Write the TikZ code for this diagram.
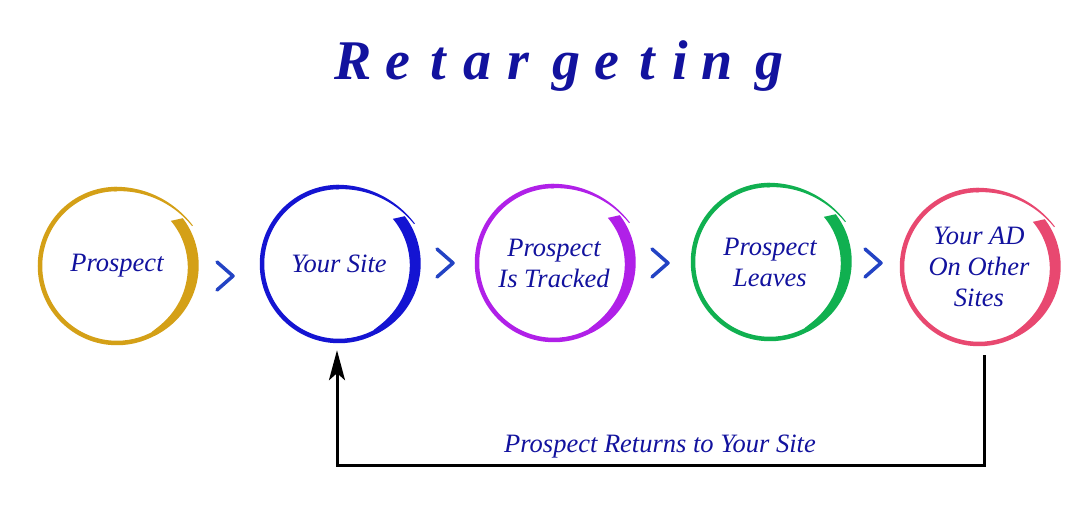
\documentclass[tikz,border=0pt]{standalone}
\usepackage{fontspec}
\setmainfont{Liberation Serif}
\usetikzlibrary{arrows.meta,calc}
\definecolor{txtblue}{RGB}{18,18,158}
\definecolor{cgold}{RGB}{212,160,23}
\definecolor{cblue}{RGB}{20,20,210}
\definecolor{cpurple}{RGB}{176,32,232}
\definecolor{cgreen}{RGB}{16,176,80}
\definecolor{cpink}{RGB}{232,72,112}
\definecolor{chevblue}{RGB}{35,67,196}
\newcommand\brushring[2]{%
  \begin{scope}[shift={(#1.center)}]
    % thin ring, counterclockwise from the top round to the lower right
    \draw[#2, line width=4.5pt] (90:77) arc[start angle=90, end angle=305, radius=77];
    % thin tail spiralling outwards at the top right
    \fill[#2] plot[domain=92:28, samples=40, variable=\t]
        (\t:{77+8.5*((92-\t)/64)*((92-\t)/64) + (4.5-3.5*(92-\t)/64)/2})
      -- plot[domain=28:92, samples=40, variable=\t]
        (\t:{77+8.5*((92-\t)/64)*((92-\t)/64) - (4.5-3.5*(92-\t)/64)/2}) -- cycle;
    % thick brush stroke on the right
    \fill[#2] plot[domain=36:-62, samples=60, variable=\t]
        (\t:{79.25+2.5*sin((\t+62)/70*90)})
      -- plot[domain=-62:40, samples=60, variable=\t]
        (\t:{74.75-4.5*sqrt((\t+62.2)/102.2)-0.5*sin((\t+62)/102*180)}) -- cycle;
  \end{scope}}
\tikzset{
  ring/.style={circle, minimum size=158pt, inner sep=0pt, align=center, text=txtblue,
    font=\fontsize{26.5}{31}\selectfont\itshape},
  titleletter/.style={anchor=base, text=txtblue, inner sep=0pt,
    font=\fontsize{56}{60}\selectfont\bfseries\itshape},
  chev/.style={draw=chevblue, line width=3.5pt, line cap=round, line join=round},
  fb/.style={draw=black, line width=3pt, -{Stealth[length=30pt,width=16pt,inset=7pt]}},
  fblabel/.style={anchor=base, text=txtblue, font=\fontsize{26.5}{30}\selectfont\itshape}
}
\begin{document}
\begin{tikzpicture}[x=1pt,y=1pt]
\useasboundingbox (0,0) rectangle (1080,522);
\fill[white] (0,0) rectangle (1080,522);
% title
\foreach \l/\xx [count=\i] in {R/353,e/398,t/438,a/477,r/518,g/566,e/607,t/647,i/680,n/717,g/769}
  \node[titleletter] (t\i) at (\xx,442) {\l};
% circles
\node[ring] (p1) at (117,256) {Prospect};
\node[ring] (p2) at (339,258) {Your Site};
\node[ring] (p3) at (554,259) {Prospect\\Is Tracked};
\node[ring] (p4) at (770,260) {Prospect\\Leaves};
\node[ring] (p5) at (979,255) {Your AD\\On Other\\Sites};
\brushring{p1}{cgold}
\brushring{p2}{cblue}
\brushring{p3}{cpurple}
\brushring{p4}{cgreen}
\brushring{p5}{cpink}
% chevrons
\foreach \cx/\cy in {225/246,445/259,660/259,873/259}
  \draw[chev] (\cx-8,\cy+14) -- (\cx+8,\cy) -- (\cx-8,\cy-14);
% feedback arrow
\coordinate (bl) at (337,56);
\draw[fb] ([shift={(5pt,-9pt)}]p5.south) |- (bl) -- ([shift={(-2pt,-7pt)}]p2.south);
\node[fblabel] (lbl) at (660,69) {Prospect Returns to Your Site};
\end{tikzpicture}
\end{document}
